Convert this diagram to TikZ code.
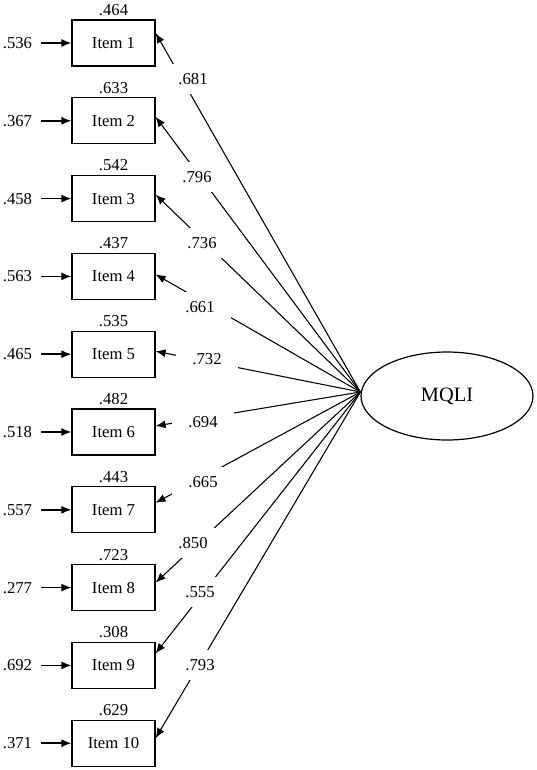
\documentclass[tikz,border=0pt]{standalone}
\usepackage{fontspec}
\setmainfont{Liberation Serif}
\usetikzlibrary{arrows.meta,shapes.geometric,calc}

\begin{document}
\begin{tikzpicture}[x=0.75pt,y=-0.75pt,
	font=\fontsize{12.5}{15}\selectfont,
	tip/.style={-{Latex[length=7.5pt,width=6pt]}},
	itembox/.style={draw,line width=0.9pt,minimum width=62.25pt,minimum height=34.5pt,inner sep=0pt},
	load/.style={fill=white,minimum width=46pt,minimum height=22pt,inner sep=0pt}]
	\useasboundingbox (0,0) rectangle (536,770);
	% latent factor
	\node[ellipse,draw,line width=0.9pt,minimum width=129pt,minimum height=66pt,inner sep=0pt,
		font=\fontsize{15.3}{18}\selectfont] (mqli) at (447,396) {MQLI};
	\coordinate (hub) at ($(mqli.west)+(0,-4)$);
	% items: r-square / error / loading / label x / label y / tip offset
	\foreach \i/\r/\e/\l/\lx/\ly/\dy in {
		1/.464/.536/.681/193/79/10,
		2/.633/.367/.796/197/177/4,
		3/.542/.458/.736/202/243/4,
		4/.437/.563/.661/200/307/2,
		5/.535/.465/.732/207/359/3,
		6/.482/.518/.694/203/422/6,
		7/.443/.557/.665/203/482/7,
		8/.723/.277/.850/193/543/5,
		9/.308/.692/.555/200/592/12,
		10/.629/.371/.793/200/665/5}{
		\node[itembox] (item\i) at (113.5,{43+(\i-1)*77.8}) {Item \i};
		\node[anchor=base,inner sep=0pt] (r\i) at ($(item\i.north)+(0,-4)$) {\r};
		\node[inner ysep=0pt,inner xsep=6.75pt] (e\i) at (17.5,{43+(\i-1)*77.8}) {\e};
		\draw[tip,line width=1.1pt] (e\i) -- (item\i);
		\draw[tip,line width=0.8pt] (hub) -- ($(item\i.east)+(0,-\dy)$);
		\node[load] (l\i) at (\lx,\ly) {\l};
	}
\end{tikzpicture}
\end{document}
